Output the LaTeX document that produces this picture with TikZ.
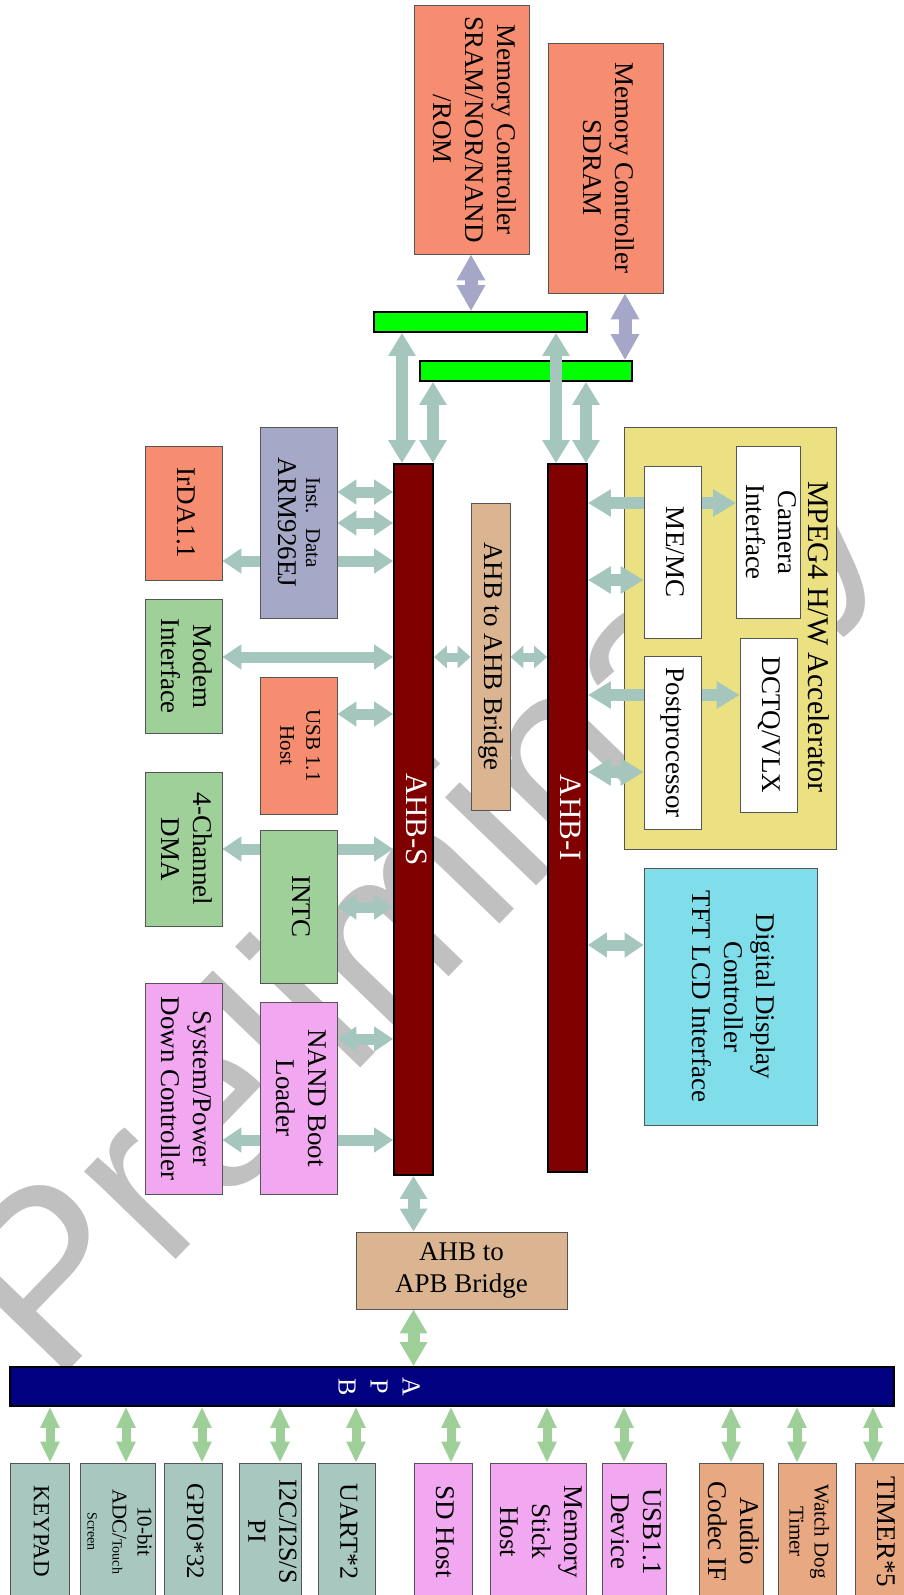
\documentclass[tikz,border=0pt]{standalone}
\usepackage{fontspec}
\setmainfont{Liberation Serif}
\newfontfamily\wmfont{Liberation Sans}
\usepackage{graphicx}
\usetikzlibrary{arrows.meta}
\pgfdeclarelayer{wm}
\pgfdeclarelayer{base}
\pgfdeclarelayer{arr}
\pgfsetlayers{wm,base,arr,main}
\definecolor{salmonc}{RGB}{247,141,112}
\definecolor{lavc}{RGB}{166,168,200}
\definecolor{greenc}{RGB}{160,208,154}
\definecolor{pinkc}{RGB}{242,168,240}
\definecolor{tanc}{RGB}{219,181,146}
\definecolor{yellowc}{RGB}{236,225,130}
\definecolor{cyanc}{RGB}{128,222,234}
\definecolor{tealc}{RGB}{167,199,191}
\definecolor{orangec}{RGB}{232,168,130}
\definecolor{maroonc}{RGB}{128,0,0}
\definecolor{navyc}{RGB}{0,0,128}
\definecolor{limec}{RGB}{0,255,0}
\definecolor{arrteal}{RGB}{164,198,189}
\definecolor{arrlav}{RGB}{165,166,200}
\definecolor{arrgreen}{RGB}{158,207,152}
\definecolor{wmgray}{RGB}{192,192,192}
\definecolor{edgec}{RGB}{85,85,85}
\newcommand\rt[1]{\rotatebox{-90}{\begin{tabular}{@{}c@{}}#1\end{tabular}}}
\newcommand\blk[7][]{\node[box,#1,minimum width={(#5-#3)*1pt},minimum height={(#6-#4)*1pt}] (#2) at ({(#3+#5)/2},{(#4+#6)/2}) {#7};}
\tikzset{
 box/.style={draw=edgec, line width=0.8pt, inner sep=0pt, font=\fontsize{27}{32}\selectfont},
 bar/.style={draw=black, line width=1.8pt},
 ta/.style={draw=arrteal, line width=11pt, arrows={Triangle[width=24pt,length=19pt]-Triangle[width=24pt,length=19pt]}},
 tab/.style={draw=arrteal, line width=12pt, arrows={Triangle[width=26pt,length=23pt]-Triangle[width=26pt,length=23pt]}},
 tas/.style={draw=arrteal, line width=9pt, arrows={Triangle[width=22pt,length=13pt]-Triangle[width=22pt,length=13pt]}},
 la/.style={draw=arrlav, line width=13pt, arrows={Triangle[width=27pt,length=26pt]-Triangle[width=27pt,length=26pt]}},
 gab/.style={draw=arrgreen, line width=12pt, arrows={Triangle[width=26pt,length=24pt]-Triangle[width=26pt,length=24pt]}},
 ga/.style={draw=arrgreen, line width=9pt, arrows={Triangle[width=18pt,length=21pt]-Triangle[width=18pt,length=21pt]}},
}
\begin{document}
\begin{tikzpicture}[x=1pt,y=-1pt]
\useasboundingbox (0,0) rectangle (904,1595);
\clip (0,0) rectangle (904,1595);
\begin{pgfonlayer}{wm}
\fill[white] (0,0) rectangle (904,1595);
\node[text=wmgray, font=\wmfont\fontsize{240}{240}\selectfont, rotate=46, anchor=base west, inner sep=0pt] (wmark) at (53,1387) {Preliminary};
\end{pgfonlayer}

\begin{pgfonlayer}{base}
\blk[bar,fill=limec]{g1}{374}{312}{587}{332}{}
\blk[bar,fill=limec]{g2}{420}{361}{632}{381}{}
\blk[fill=yellowc]{mpeg}{624}{427}{836}{849}{}
\end{pgfonlayer}

% memory controllers
\blk[fill=salmonc]{mc1}{414}{5}{529}{254}{\rt{Memory Controller\\SRAM/NOR/NAND\\/ROM}}
\blk[fill=salmonc]{mc2}{548}{43}{663}{293}{\rt{Memory Controller\\SDRAM}}
% buses
\blk[bar,fill=maroonc,text=white,font=\fontsize{31}{36}\selectfont]{ahbs}{394}{464}{433}{1175}{\rt{AHB-S}}
\blk[bar,fill=maroonc,text=white,font=\fontsize{31}{36}\selectfont]{ahbi}{548}{464}{587}{1172}{\rt{AHB-I}}
\blk[fill=tanc]{a2a}{471}{503}{510}{810}{\rt{AHB to AHB Bridge}}
% left side
\blk[fill=lavc]{arm}{260}{427}{337}{618}{\rt{{\fontsize{21}{25}\selectfont Inst.\hspace{14pt}Data}\\[-4pt]ARM926EJ}}
\blk[fill=salmonc]{irda}{145}{446}{222}{580}{\rt{IrDA1.1}}
\blk[fill=greenc]{modem}{145}{599}{222}{733}{\rt{Modem\\Interface}}
\blk[fill=salmonc,font=\fontsize{21}{26}\selectfont]{usbh}{260}{677}{337}{814}{\rt{USB 1.1\\Host}}
\blk[fill=greenc]{dma}{145}{772}{222}{926}{\rt{4-Channel\\DMA}}
\blk[fill=greenc]{intc}{260}{830}{337}{983}{\rt{INTC}}
\blk[fill=pinkc]{sys}{145}{983}{222}{1194}{\rt{System/Power\\Down Controller}}
\blk[fill=pinkc]{nand}{260}{1002}{337}{1194}{\rt{NAND Boot\\Loader}}
% MPEG4
\node[font=\fontsize{30}{36}\selectfont, inner sep=0pt] (mpegt) at (816,637) {\rt{MPEG4 H/W Accelerator}};
\blk[fill=white]{cam}{740}{446}{797}{618}{\rt{Camera\\Interface}}
\blk[fill=white]{memc}{644}{466}{701}{638}{\rt{ME/MC}}
\blk[fill=white]{dctq}{740}{638}{797}{812}{\rt{DCTQ/VLX}}
\blk[fill=white]{post}{644}{656}{701}{829}{\rt{Postprocessor}}
\blk[fill=cyanc]{ddc}{644}{868}{817}{1125}{\rt{Digital Display\\Controller\\TFT LCD Interface}}
% bridge and APB
\blk[fill=tanc]{a2p}{356}{1232}{567}{1309}{\begin{tabular}{@{}c@{}}AHB to\\APB Bridge\end{tabular}}
\blk[bar,fill=navyc]{apb}{10}{1367}{894}{1406}{}
\node[text=white, font=\fontsize{26}{32}\selectfont, inner sep=0pt] (apbt) at (377,1387) {\rt{A\\P\\B}};
% peripherals
\blk[fill=tealc,font=\fontsize{23}{28}\selectfont]{kp}{10}{1463}{69}{1600}{\rt{KEYPAD}}
\blk[fill=tealc,font=\fontsize{21}{25}\selectfont]{adc}{87}{1463}{148}{1600}{\rt{10-bit\\ADC/{\fontsize{14}{16}\selectfont Touch}\\{\fontsize{14}{16}\selectfont Screen}}}
\blk[fill=tealc,font=\fontsize{25}{30}\selectfont]{gpio}{164}{1463}{222}{1600}{\rt{GPIO*32}}
\blk[fill=tealc,font=\fontsize{26}{31}\selectfont]{i2c}{241}{1463}{299}{1600}{\rt{I2C/I2S/S\\PI}}
\blk[fill=tealc,font=\fontsize{26}{31}\selectfont]{uart}{318}{1463}{375}{1600}{\rt{UART*2}}
\blk[fill=pinkc]{sd}{414}{1463}{472}{1600}{\rt{SD Host}}
\blk[fill=pinkc]{msh}{491}{1463}{586}{1600}{\rt{Memory\\Stick\\Host}}
\blk[fill=pinkc]{usbd}{605}{1463}{663}{1600}{\rt{USB1.1\\Device}}
\blk[fill=orangec]{aud}{702}{1463}{760}{1600}{\rt{Audio\\Codec IF}}
\blk[fill=orangec,font=\fontsize{21}{25}\selectfont]{wdt}{778}{1463}{836}{1600}{\rt{Watch Dog\\Timer}}
\blk[fill=orangec]{tmr}{855}{1463}{913}{1600}{\rt{TIMER*5}}

\begin{pgfonlayer}{arr}
% memory
\draw[la] (mc1.south -| 471,0) -- (g1.north -| 471,0);
\draw[la] (mc2.south -| 625,0) -- (g2.north -| 625,0);
% green bars to AHB
\draw[tab] (g1.south -| 402,0) -- (ahbs.north -| 402,0);
\draw[tab] (g2.south -| 433,0) -- (ahbs.north -| 433,0);
\draw[tab] (g1.south -| 556,0) -- (ahbi.north -| 556,0);
\draw[tab] (g2.south -| 586,0) -- (ahbi.north -| 586,0);
% left side
\draw[ta] (arm.east |- 0,492) -- (ahbs.west |- 0,492);
\draw[ta] (arm.east |- 0,523) -- (ahbs.west |- 0,523);
\draw[ta] (irda.east |- 0,561) -- (ahbs.west |- 0,561);
\draw[ta] (modem.east |- 0,657) -- (ahbs.west |- 0,657);
\draw[ta] (usbh.east |- 0,714) -- (ahbs.west |- 0,714);
\draw[ta] (dma.east |- 0,849) -- (ahbs.west |- 0,849);
\draw[ta] (intc.east |- 0,907) -- (ahbs.west |- 0,907);
\draw[ta] (nand.east |- 0,1039) -- (ahbs.west |- 0,1039);
\draw[ta] (sys.east |- 0,1140) -- (ahbs.west |- 0,1140);
% bridge
\draw[tas] (ahbs.east |- 0,657) -- (a2a.west |- 0,657);
\draw[tas] (a2a.east |- 0,657) -- (ahbi.west |- 0,657);
% MPEG4
\draw[tab] (ahbi.east |- 0,503) -- (cam.west |- 0,503);
\draw[tab] (ahbi.east |- 0,580) -- (memc.west |- 0,580);
\draw[tab] (ahbi.east |- 0,695) -- (dctq.west |- 0,695);
\draw[tab] (ahbi.east |- 0,772) -- (post.west |- 0,772);
\draw[ta] (ahbi.east |- 0,945) -- (ddc.west |- 0,945);
% AHB to APB
\draw[tab] (ahbs.south) -- (ahbs.south |- a2p.north);
\draw[gab] (a2p.south -| ahbs.south) -- (apb.north -| ahbs.south);
\foreach \n/\xx in {kp/50, adc/126, gpio/202, i2c/280, uart/356, sd/451, msh/547, usbd/624, aud/731, wdt/797, tmr/873}
  \draw[ga] (apb.south -| \xx,0) -- (\n.north -| \xx,0);
\end{pgfonlayer}
\end{tikzpicture}
\end{document}
